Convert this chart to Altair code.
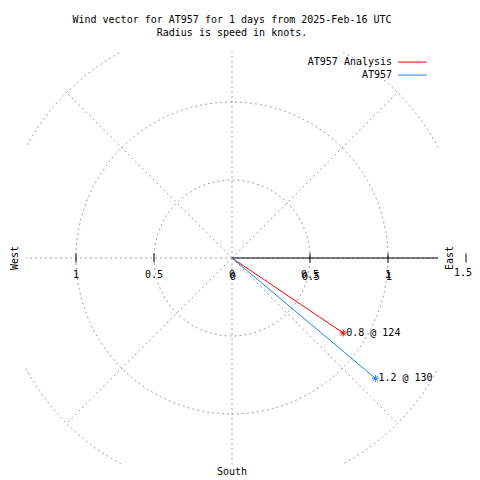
import math
import altair as alt
import pandas as pd

# ---- data ----
series = ["AT957 Analysis", "AT957"]
speed = [0.86, 1.2]            # knots
direction = [124, 130]         # degrees, clockwise from north
value_labels = ["0.8 @ 124", "1.2 @ 130"]
colors = ["#ff0000", "#1a86f0"]

ring_radii = [0.5, 1.0, 1.5]
spoke_angles = [0, 45, 90, 135, 180, 225, 270, 315]
left_ticks = [-1.0, -0.5]
left_tick_labels = ["1", "0.5"]
right_ticks = [0.0, 0.5, 1.0]
right_tick_labels = ["0", "0.5", "1"]
end_ticks = [1.5]
end_tick_labels = ["1.5"]
compass_names = ["West", "East", "South"]
compass_angle = [270, 270, 0]

title_lines = ["Wind vector for AT957 for 1 days from 2025-Feb-16 UTC",
               "Radius is speed in knots."]

# ---- layout constants (knots units; 156 px per knot) ----
FONT = "DejaVu Sans Mono"
R = 1.3205      # half-size of the clipped plotting square
TICK = 0.029    # half-length of tick marks
GRID = "#a0a0a0"
COMPASS_POS = [(-1.391, 0.0), (1.397, 0.0), (0.0, -1.372)]
LEG_TEXT_X = 1.026
LEG_LINE_X = (1.064, 1.250)
LEG_TOP = 1.256
LEG_STEP = 13 / 156

# ---- tables ----
vec_rows, end_rows = [], []
for s, v, d, lab in zip(series, speed, direction, value_labels):
    ex = v * math.sin(math.radians(d))
    ey = v * math.cos(math.radians(d))
    vec_rows.append(dict(series=s, x=0.0, y=0.0, o=0))
    vec_rows.append(dict(series=s, x=ex, y=ey, o=1))
    end_rows.append(dict(series=s, x=ex, y=ey, label=lab))
vec = pd.DataFrame(vec_rows)
ends = pd.DataFrame(end_rows)

ring_rows = []
for r in ring_radii:
    for i, a in enumerate(range(0, 361, 3)):
        ring_rows.append(dict(ring=r, i=i, x=r * math.cos(math.radians(a)), y=r * math.sin(math.radians(a))))
rings = pd.DataFrame(ring_rows)

spokes = pd.DataFrame([dict(x=0.0, y=0.0,
                            x2=ring_radii[-1] * math.cos(math.radians(a)),
                            y2=ring_radii[-1] * math.sin(math.radians(a))) for a in spoke_angles])

ticks = pd.DataFrame(dict(x=left_ticks + right_ticks[1:] + end_ticks))
ticks["y"] = -TICK
ticks["y2"] = TICK
lab_single = pd.DataFrame(dict(x=left_ticks + right_ticks, t=left_tick_labels + right_tick_labels, y=0.0))
lab_double = pd.DataFrame(dict(x=right_ticks, t=right_tick_labels, y=0.0))
lab_end = pd.DataFrame(dict(x=end_ticks, t=end_tick_labels, y=0.0))
axis_line = pd.DataFrame(dict(x=[0.0], x2=[ring_radii[-1]], y=[0.0]))
compass = pd.DataFrame(dict(name=compass_names, x=[p[0] for p in COMPASS_POS],
                            y=[p[1] for p in COMPASS_POS], angle=compass_angle))
leg = pd.DataFrame(dict(series=series,
                        tx=LEG_TEXT_X, x=LEG_LINE_X[0], x2=LEG_LINE_X[1],
                        y=[LEG_TOP - i * LEG_STEP for i in range(len(series))]))

xs = alt.Scale(domain=[-R, R], nice=False, zero=False)
ys = alt.Scale(domain=[-R, R], nice=False, zero=False)
X = lambda f="x": alt.X(f"{f}:Q", scale=xs, axis=None)
Y = lambda f="y": alt.Y(f"{f}:Q", scale=ys, axis=None)
color = alt.Color("series:N", scale=alt.Scale(domain=series, range=colors), legend=None)

ring_layer = alt.Chart(rings).mark_line(stroke=GRID, strokeDash=[2, 3], strokeWidth=1, clip=True).encode(
    x=X(), y=Y(), detail="ring:N", order="i:Q")
spoke_layer = alt.Chart(spokes).mark_rule(stroke=GRID, strokeDash=[2, 3], strokeWidth=1, clip=True).encode(
    x=X(), y=Y(), x2="x2:Q", y2="y2:Q")
axis_layer = alt.Chart(axis_line).mark_rule(color="black", strokeWidth=1, clip=True).encode(
    x=X(), x2="x2:Q", y=Y())
tick_layer = alt.Chart(ticks).mark_rule(color="black", strokeWidth=1).encode(
    x=X(), y=Y(), y2="y2:Q")
lab1 = alt.Chart(lab_single).mark_text(font=FONT, fontSize=10, color="black", dy=17, baseline="middle").encode(
    x=X(), y=Y(), text="t:N")
lab2 = alt.Chart(lab_double).mark_text(font=FONT, fontSize=10, color="black", dx=1, dy=19, baseline="middle").encode(
    x=X(), y=Y(), text="t:N")
lab3 = alt.Chart(lab_end).mark_text(font=FONT, fontSize=10, color="black", dx=-3, dy=15, baseline="middle").encode(
    x=X(), y=Y(), text="t:N")
compass_layer = alt.Chart(compass).mark_text(font=FONT, fontSize=10, color="black", baseline="middle").encode(
    x=X(), y=Y(), text="name:N", angle=alt.Angle("angle:Q", scale=None))
vec_layer = alt.Chart(vec).mark_line(strokeWidth=1).encode(
    x=X(), y=Y(), color=color, order="o:Q")
star_layer = alt.Chart(ends).mark_point(
    shape="M-1,0L1,0M0,-1L0,1M-0.7,-0.7L0.7,0.7M-0.7,0.7L0.7,-0.7",
    size=49, filled=False, strokeWidth=1, opacity=1).encode(x=X(), y=Y(), color=color)
val_layer = alt.Chart(ends).mark_text(font=FONT, fontSize=10, color="black", align="left",
                                      baseline="middle", dx=3).encode(x=X(), y=Y(), text="label:N")
leg_line = alt.Chart(leg).mark_rule(strokeWidth=1).encode(x=X(), x2="x2:Q", y=Y(), color=color)
leg_text = alt.Chart(leg).mark_text(font=FONT, fontSize=10, color="black", align="right",
                                    baseline="middle").encode(x=X("tx"), y=Y(), text="series:N")

chart = alt.layer(ring_layer, spoke_layer, axis_layer, tick_layer, lab1, lab2, lab3, compass_layer,
                  vec_layer, star_layer, val_layer, leg_line, leg_text).properties(
    width=412, height=412,
    autosize=alt.AutoSizeParams(type="none"),
    padding={"left": 18, "top": 44, "right": 34, "bottom": 16},
    title=alt.Title(text=title_lines, font=FONT, fontSize=10, fontWeight="normal",
                    anchor="middle", offset=14, lineHeight=13, color="black"),
).configure_view(stroke=None)

chart.save("out.html", embed_options={"renderer": "svg", "actions": False})
